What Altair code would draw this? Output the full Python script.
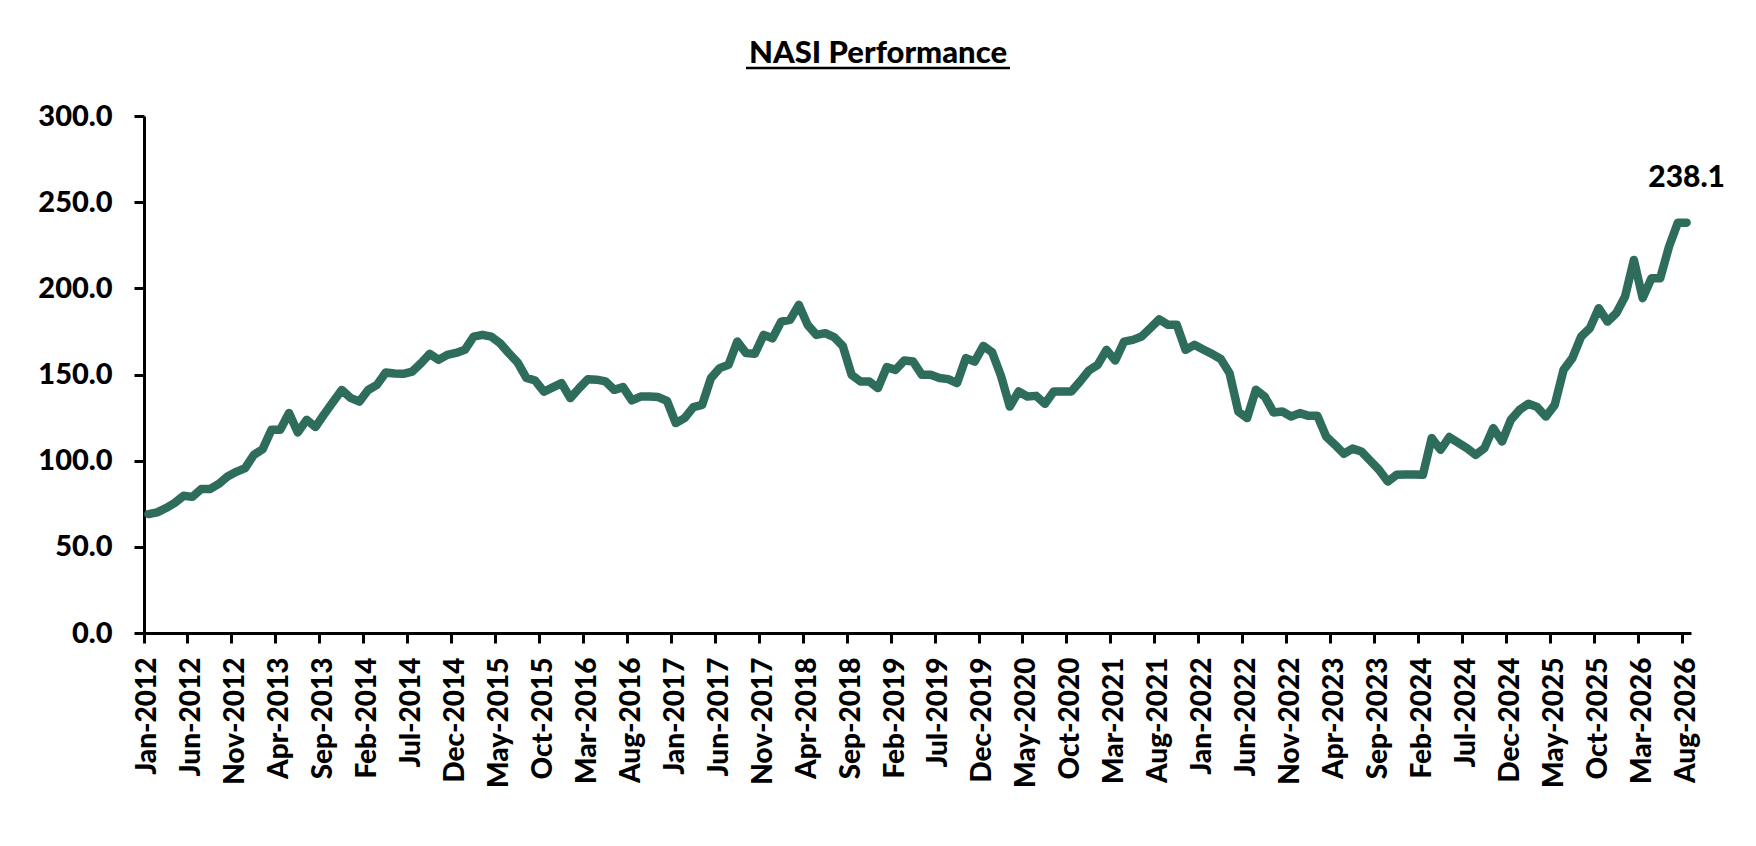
import altair as alt
import pandas as pd

# ---- data ----
MONTH_NAMES = ["Jan", "Feb", "Mar", "Apr", "May", "Jun", "Jul", "Aug", "Sep", "Oct", "Nov", "Dec"]
YEARS = list(range(2012, 2027))

nasi_2012 = [69.0, 70.0, 72.5, 75.5, 79.6, 79.0, 83.5, 83.5, 86.5, 90.8, 93.5, 95.7]
nasi_2013 = [103.4, 106.7, 117.9, 117.9, 127.6, 116.4, 123.7, 119.5, 127.0, 134.0, 141.0, 136.4]
nasi_2014 = [134.3, 141.0, 144.0, 151.2, 150.6, 150.4, 151.7, 156.5, 162.0, 158.5, 161.4, 162.5]
nasi_2015 = [164.3, 172.0, 173.0, 172.0, 168.2, 162.4, 157.0, 148.0, 146.5, 140.0, 142.5, 145.0]
nasi_2016 = [136.3, 142.0, 147.3, 147.0, 146.0, 141.1, 142.7, 135.0, 137.2, 137.2, 136.9, 134.7]
nasi_2017 = [121.8, 124.7, 131.1, 132.4, 147.9, 153.7, 155.6, 169.1, 162.4, 162.0, 173.0, 171.0]
nasi_2018 = [180.7, 181.7, 190.4, 178.8, 173.0, 174.0, 171.7, 166.6, 149.8, 146.0, 146.0, 142.1]
nasi_2019 = [154.3, 152.7, 158.1, 157.5, 149.8, 149.8, 148.0, 147.3, 145.0, 159.5, 157.5, 166.6]
nasi_2020 = [162.8, 149.2, 131.4, 140.1, 137.2, 137.6, 133.0, 140.1, 140.1, 140.1, 146.0, 152.3]
nasi_2021 = [155.6, 164.3, 158.1, 169.1, 170.1, 172.0, 177.0, 182.0, 178.8, 178.8, 164.3, 167.2]
nasi_2022 = [164.5, 162.0, 159.0, 150.8, 128.5, 124.7, 141.1, 137.2, 128.0, 128.5, 125.6, 127.6]
nasi_2023 = [126.0, 126.0, 114.0, 109.2, 104.0, 107.0, 105.3, 100.0, 94.7, 87.9, 91.8, 92.0]
nasi_2024 = [92.0, 91.8, 113.1, 106.3, 113.7, 110.5, 107.3, 103.4, 107.3, 118.9, 111.1, 123.7]
nasi_2025 = [129.5, 133.0, 131.1, 125.6, 132.4, 152.7, 159.5, 172.0, 176.9, 188.5, 180.7, 185.6]
nasi_2026 = [195.2, 216.5, 194.3, 205.9, 205.9, 224.2, 238.0, 238.1]

tick_labels = [
    "Jan-2012", "Jun-2012", "Nov-2012", "Apr-2013", "Sep-2013", "Feb-2014",
    "Jul-2014", "Dec-2014", "May-2015", "Oct-2015", "Mar-2016", "Aug-2016",
    "Jan-2017", "Jun-2017", "Nov-2017", "Apr-2018", "Sep-2018", "Feb-2019",
    "Jul-2019", "Dec-2019", "May-2020", "Oct-2020", "Mar-2021", "Aug-2021",
    "Jan-2022", "Jun-2022", "Nov-2022", "Apr-2023", "Sep-2023", "Feb-2024",
    "Jul-2024", "Dec-2024", "May-2025", "Oct-2025", "Mar-2026", "Aug-2026",
]
y_ticks = [0, 50, 100, 150, 200, 250, 300]
chart_title = "NASI Performance"

values = (nasi_2012 + nasi_2013 + nasi_2014 + nasi_2015 + nasi_2016 + nasi_2017
          + nasi_2018 + nasi_2019 + nasi_2020 + nasi_2021 + nasi_2022 + nasi_2023
          + nasi_2024 + nasi_2025 + nasi_2026)
months = [f"{m}-{y}" for y in YEARS for m in MONTH_NAMES][:len(values)]

df = pd.DataFrame({"month": months, "nasi": values})

FONT = "Lato"
WEIGHT = 900
LINE_COLOR = "#2E6C5B"

x_enc = alt.X(
    "month:O",
    sort=months,
    bandPosition=0.5,
    scale=alt.Scale(type="band", paddingInner=0, paddingOuter=0),
    axis=alt.Axis(
        values=tick_labels,
        bandPosition=0,
        labelAngle=270,
        labelFont=FONT,
        labelFontSize=28,
        labelFontWeight=WEIGHT,
        labelColor="black",
        labelPadding=14,
        labelOverlap=False,
        tickSize=10,
        tickWidth=3,
        tickColor="black",
        domainColor="black",
        domainWidth=3,
        grid=False,
        title=None,
    ),
)
y_enc = alt.Y(
    "nasi:Q",
    scale=alt.Scale(domain=[0, 300]),
    axis=alt.Axis(
        values=y_ticks,
        format=".1f",
        labelFont=FONT,
        labelFontSize=29,
        labelFontWeight=WEIGHT,
        labelColor="black",
        labelPadding=22,
        tickSize=10,
        tickWidth=3,
        tickColor="black",
        domainColor="black",
        domainWidth=3,
        grid=False,
        title=None,
    ),
)

base = alt.Chart(df)

line = base.mark_line(
    color=LINE_COLOR, strokeWidth=8.5, strokeCap="round", strokeJoin="round"
).encode(x=x_enc, y=y_enc)

end_label = base.transform_filter(alt.datum.month == months[-1]).mark_text(
    font=FONT, fontSize=30, fontWeight=WEIGHT, color="black",
    dy=-36, baseline="alphabetic", align="center",
).encode(x=x_enc, y=y_enc, text=alt.Text("nasi:Q", format=".1f"))

title_df = pd.DataFrame({"t": [chart_title]})
title_text = alt.Chart(title_df).mark_text(
    font=FONT, fontSize=31, fontWeight=WEIGHT, color="black",
    align="center", baseline="alphabetic",
).encode(x=alt.value(734), y=alt.value(-53), text="t:N")
title_line = alt.Chart(title_df).mark_rule(color="black", strokeWidth=2.5).encode(
    x=alt.value(602), x2=alt.value(866), y=alt.value(-48)
)

chart = (
    alt.layer(line, end_label, title_text, title_line)
    .properties(
        width=1547,
        height=517,
        autosize=alt.AutoSizeParams(type="none"),
        padding={"left": 136, "top": 108, "right": 57, "bottom": 190},
        background="white",
    )
    .configure_view(strokeWidth=0)
)

chart.save("out.html", embed_options={"renderer": "svg", "actions": False})
